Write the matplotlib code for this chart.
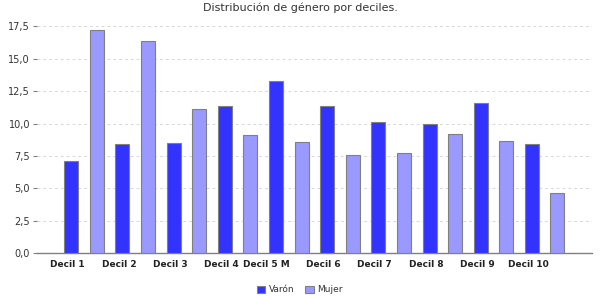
import matplotlib
matplotlib.use("Agg")
import matplotlib.pyplot as plt
import matplotlib.transforms as mtransforms
import numpy as np
from matplotlib.ticker import FuncFormatter, MultipleLocator

title = "Distribución de género por deciles."
categories = ["Decil 1", "Decil 2", "Decil 3", "Decil 4", "Decil 5 M",
              "Decil 6", "Decil 7", "Decil 8", "Decil 9", "Decil 10"]
series_names = ["Varón", "Mujer"]
varon = [7.1, 8.4, 8.48, 11.4, 13.28, 11.35, 10.12, 9.94, 11.58, 8.4]
mujer = [17.22, 16.35, 11.13, 9.12, 8.56, 7.58, 7.73, 9.2, 8.66, 4.65]

colors = ["#3333FF", "#9999FF"]
edge = "#808080"

fig = plt.figure(figsize=(6, 3), dpi=100)
ax = fig.add_axes([37/600, 1-253.3/300, (592-37)/600, (253.3-20)/300])

x = np.arange(len(categories))
w = 0.273
ax.bar(x - 0.25, varon, w, color=colors[0], edgecolor=edge, linewidth=0.8, label=series_names[0], zorder=3)
ax.bar(x + 0.25, mujer, w, color=colors[1], edgecolor=edge, linewidth=0.8, label=series_names[1], zorder=3)

ax.set_xlim(-0.92, 9.925)
ax.set_ylim(0, 18)
ax.yaxis.set_major_locator(MultipleLocator(2.5))
ax.yaxis.set_major_formatter(FuncFormatter(lambda v, p: f"{v:.1f}".replace(".", ",")))
ax.grid(axis="y", color="#d8d8d8", linestyle=(0, (3, 3)), linewidth=0.7, zorder=0)

ax.set_xticks(x - 0.32)
ax.set_xticklabels(categories, fontsize=6.5, fontweight="bold", color="#222222")
ax.tick_params(axis="x", length=0, pad=5)
ax.tick_params(axis="y", length=3, width=0.8, color="#808080", labelsize=7, labelcolor="#333333", pad=2)

for lbl in ax.get_xticklabels():
    if lbl.get_text() == "Decil 5 M":
        lbl.set_transform(lbl.get_transform() + mtransforms.ScaledTranslation(-6/100, 0, fig.dpi_scale_trans))

for s in ["top", "right", "left"]:
    ax.spines[s].set_visible(False)
ax.spines["bottom"].set_color("#808080")
ax.spines["bottom"].set_linewidth(1)

fig.text(0.5, 1 - 8/300, title, ha="center", va="center", fontsize=8, color="#333333")

handles, labels = ax.get_legend_handles_labels()
fig.legend(handles, labels, loc="center", bbox_to_anchor=(0.5, 1 - 290/300), ncol=2,
           frameon=False, fontsize=6.5, handlelength=0.9, handleheight=0.9,
           handletextpad=0.4, columnspacing=1.2, labelcolor="#333333")

fig.savefig("out.png", dpi=100)
